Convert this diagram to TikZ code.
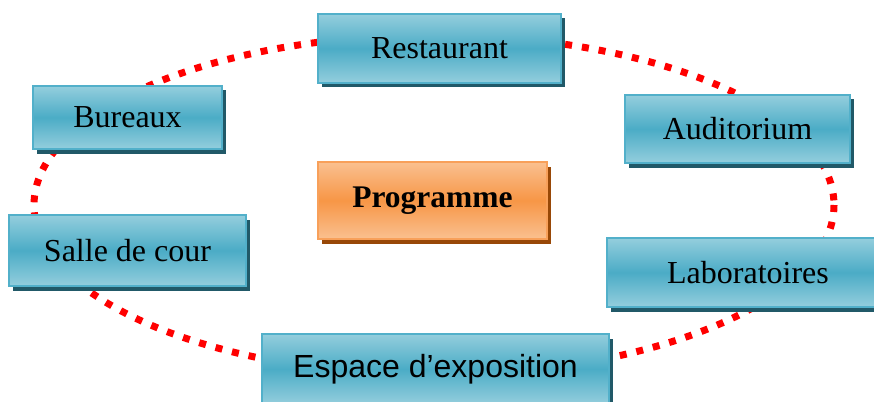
\documentclass[tikz,border=0pt]{standalone}
\usepackage{fontspec}
\setmainfont{Liberation Serif}
\newfontfamily\arialfont{Liberation Sans}
\usetikzlibrary{shadows}
\definecolor{bluetop}{RGB}{148,206,221}
\definecolor{bluemid}{RGB}{75,172,198}
\definecolor{blueedge}{RGB}{82,176,202}
\definecolor{blueshadow}{RGB}{33,89,104}
\definecolor{orangetop}{RGB}{250,192,144}
\definecolor{orangemid}{RGB}{247,150,70}
\definecolor{orangeedge}{RGB}{248,160,90}
\definecolor{orangeshadow}{RGB}{152,72,7}
\definecolor{dotred}{RGB}{255,0,0}
\tikzset{
  bluebox/.style={rectangle, draw=blueedge, line width=2pt,
    top color=bluetop, bottom color=bluetop, middle color=bluemid,
    drop shadow={shadow xshift=3.5pt, shadow yshift=-4.5pt, fill=blueshadow, opacity=1},
    font=\fontsize{32}{37}\selectfont, inner sep=0pt},
  orangebox/.style={rectangle, draw=orangeedge, line width=2pt,
    top color=orangetop, bottom color=orangetop, middle color=orangemid,
    drop shadow={shadow xshift=3.5pt, shadow yshift=-4.5pt, fill=orangeshadow, opacity=1},
    font=\fontsize{31.5}{37}\selectfont\bfseries, inner sep=0pt},
  ring/.style={draw=dotred, line width=7pt, dash pattern=on 7pt off 10pt}
}
\begin{document}
\begin{tikzpicture}[x=1pt,y=-1pt]
\useasboundingbox (0,0) rectangle (874,401);
\clip (0,0) rectangle (874,401);
\coordinate (c) at (434,205);
\draw[ring] (c) ellipse [x radius=400, y radius=170];
\node[bluebox, minimum width=243pt, minimum height=69pt] (rest) at (439.5,48.5) {Restaurant};
\node[orangebox, minimum width=229pt, minimum height=77pt] (prog) at (432.5,200.5) {Programme};
\node[bluebox, minimum width=189pt, minimum height=63pt] (bur) at (127.5,117.5) {Bureaux};
\node[bluebox, minimum width=225pt, minimum height=68pt] (aud) at (737.5,129) {Auditorium};
\node[bluebox, minimum width=282pt, minimum height=69pt] (lab) at (748,272.5) {Laboratoires};
\node[bluebox, minimum width=237pt, minimum height=71pt] (salle) at (127.5,250.5) {Salle de cour};
\node[bluebox, minimum width=347pt, minimum height=70pt, font=\fontsize{32}{37}\selectfont\arialfont] (esp) at (435.5,369) {Espace d’exposition};
\end{tikzpicture}
\end{document}
